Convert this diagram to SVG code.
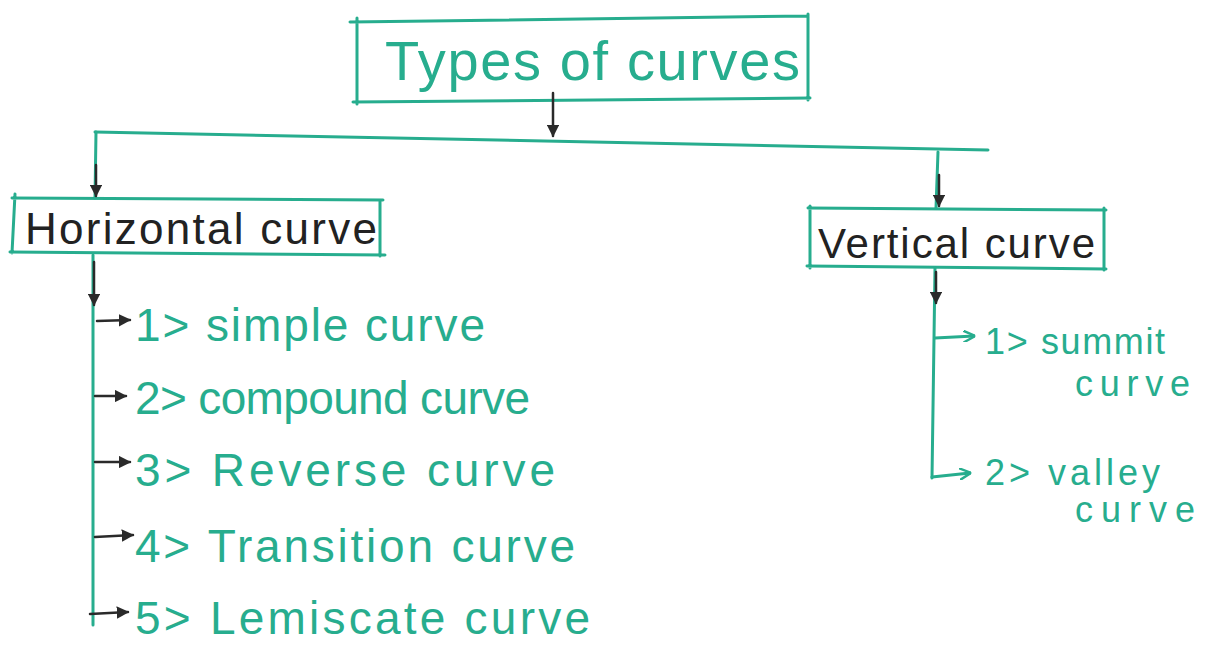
<svg xmlns="http://www.w3.org/2000/svg" width="1214" height="649" viewBox="0 0 1214 649">
<style>
.g{fill:none;stroke:#27ad8e;stroke-width:3;stroke-linecap:round}
.k{fill:none;stroke:#2a2a2a;stroke-width:2.5;stroke-linecap:round}
.tg{fill:#27ad8e;font-family:"Liberation Sans",Arial,sans-serif}
.tk{fill:#222;font-family:"Liberation Sans",Arial,sans-serif}
</style>
<defs>
<marker id="ah" viewBox="0 0 10 10" refX="9" refY="5" markerWidth="5" markerHeight="5" orient="auto">
<path d="M0,0 L10,5 L0,10 Z" fill="#2a2a2a"/>
</marker>
<marker id="ahg" viewBox="0 0 10 10" refX="9" refY="5" markerWidth="4" markerHeight="4" orient="auto">
<path d="M0,0 L10,5 L0,10" fill="none" stroke="#27ad8e" stroke-width="2"/>
</marker>
</defs>
<rect width="1214" height="649" fill="#fff"/>
<g id="root">
<path class="g" d="M350,22 L808,16 M357,18 L357,104 M353,102 L810,98 M808,14 L808,100"/>
<text class="tg" x="385" y="80" font-size="56" textLength="415" lengthAdjust="spacing">Types of curves</text>
</g>
<g id="horizontal">
<path class="g" d="M12,198 L383,200 M15,194 L12,253 M10,252 L385,255 M380,200 L380,256"/>
<text class="tk" x="25" y="244" font-size="44" textLength="352" lengthAdjust="spacing">Horizontal curve</text>
</g>
<g id="vertical">
<path class="g" d="M808,208 L1106,210 M810,206 L810,268 M807,266 L1106,269 M1104,208 L1104,270"/>
<text class="tk" x="818" y="258" font-size="42" textLength="277" lengthAdjust="spacing">Vertical curve</text>
</g>
<g id="items">
<text class="tg" x="135" y="341" font-size="46" textLength="350" lengthAdjust="spacing">1&gt; simple curve</text>
<text class="tg" x="135" y="414" font-size="46" textLength="395" lengthAdjust="spacing">2&gt; compound curve</text>
<text class="tg" x="135" y="486" font-size="46" textLength="420" lengthAdjust="spacing">3&gt; Reverse curve</text>
<text class="tg" x="135" y="562" font-size="46" textLength="440" lengthAdjust="spacing">4&gt; Transition curve</text>
<text class="tg" x="135" y="634" font-size="46" textLength="455" lengthAdjust="spacing">5&gt; Lemiscate curve</text>
<text class="tg" x="985" y="354" font-size="36" textLength="180" lengthAdjust="spacing">1&gt; summit</text>
<text class="tg" x="1075" y="396" font-size="36" textLength="115" lengthAdjust="spacing">curve</text>
<text class="tg" x="985" y="485" font-size="36" textLength="175" lengthAdjust="spacing">2&gt; valley</text>
<text class="tg" x="1075" y="522" font-size="36" textLength="120" lengthAdjust="spacing">curve</text>
</g>
<g id="connectors">
<path class="g" d="M95,132 L988,150"/>
<path class="g" d="M96,132 L95,198"/>
<path class="g" d="M938,152 L936,208"/>
<path class="g" d="M93,255 L93,625"/>
<path class="g" d="M935,268 L932,478"/>
<path class="k" d="M553,93 L553,136" marker-end="url(#ah)"/>
<path class="k" d="M96,165 L96,196" marker-end="url(#ah)"/>
<path class="k" d="M939,175 L939,206" marker-end="url(#ah)"/>
<path class="k" d="M94,262 L94,305" marker-end="url(#ah)"/>
<path class="k" d="M936,272 L936,303" marker-end="url(#ah)"/>
<path class="k" d="M97,321 L130,320" marker-end="url(#ah)"/>
<path class="k" d="M95,396 L126,396" marker-end="url(#ah)"/>
<path class="k" d="M95,462 L130,462" marker-end="url(#ah)"/>
<path class="k" d="M95,537 L133,535" marker-end="url(#ah)"/>
<path class="k" d="M90,614 L128,612" marker-end="url(#ah)"/>
<path class="g" d="M935,338 L974,336" marker-end="url(#ahg)"/>
<path class="g" d="M932,477 L970,473" marker-end="url(#ahg)"/>
</g>
</svg>
